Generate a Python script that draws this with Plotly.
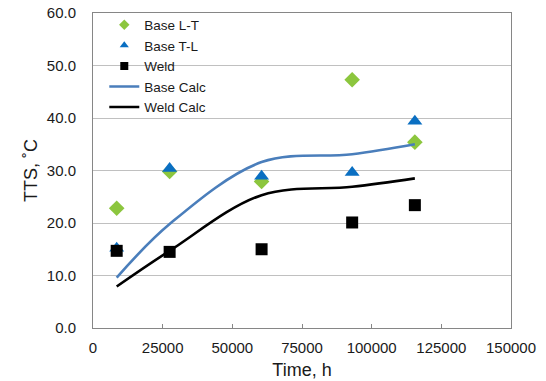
import plotly.graph_objects as go

# Exposure times (h) and transition temperature shifts (°C)
time_h = [8500, 27500, 60500, 93000, 115500]
base_lt = [22.8, 29.8, 27.9, 47.3, 35.4]
base_tl = [15.2, 30.4, 28.9, 29.6, 39.4]
weld = [14.7, 14.5, 15.0, 20.1, 23.4]
base_calc = [9.6, 19.8, 31.6, 33.1, 35.0]
weld_calc = [7.9, 14.7, 25.3, 26.9, 28.5]

x_ticks = [0, 25000, 50000, 75000, 100000, 125000, 150000]
y_ticks = [0, 10, 20, 30, 40, 50, 60]

FONT = "Liberation Sans, Arial, sans-serif"

GREEN, BLUE, BLACK, LINE_BLUE = "#8CC63E", "#0A6FC2", "#000000", "#4A7EBB"

fig = go.Figure()
# Measured data (plotted marks; legend entries come from the key traces below)
fig.add_trace(go.Scatter(x=time_h, y=base_lt, mode="markers", name="Base L-T", showlegend=False,
                         marker=dict(symbol="diamond", size=12, color=GREEN)))
fig.add_trace(go.Scatter(x=time_h, y=base_tl, mode="markers", name="Base T-L", showlegend=False,
                         marker=dict(symbol="triangle-up", size=13, color=BLUE)))
fig.add_trace(go.Scatter(x=time_h, y=weld, mode="markers", name="Weld", showlegend=False,
                         marker=dict(symbol="square", size=12, color=BLACK)))
fig.add_trace(go.Scatter(x=time_h, y=base_calc, mode="lines", name="Base Calc", showlegend=False,
                         line=dict(color=LINE_BLUE, width=2.6, shape="spline", smoothing=1.0)))
fig.add_trace(go.Scatter(x=time_h, y=weld_calc, mode="lines", name="Weld Calc", showlegend=False,
                         line=dict(color=BLACK, width=2.6, shape="spline", smoothing=1.0)))

# Legend key with smaller symbols
key = [
    ("Base L-T", "markers", dict(symbol="diamond", size=8, color=GREEN), None),
    ("Base T-L", "markers", dict(symbol="triangle-up", size=8, color=BLUE), None),
    ("Weld", "markers", dict(symbol="square", size=8, color=BLACK), None),
    ("Base Calc", "lines", None, dict(color=LINE_BLUE, width=2.6)),
    ("Weld Calc", "lines", None, dict(color=BLACK, width=2.6)),
]
for name, mode, marker, line in key:
    fig.add_trace(go.Scatter(x=[None], y=[None], mode=mode, name=name,
                             marker=marker, line=line, hoverinfo="skip"))

fig.update_layout(
    width=546, height=381,
    margin=dict(l=93, r=35, t=13, b=53, autoexpand=False),
    paper_bgcolor="white", plot_bgcolor="white",
    font=dict(family=FONT, size=15, color="#1a1a1a"),
    showlegend=True,
    legend=dict(x=0.027, y=0.975, xanchor="left", yanchor="top", yref="container",
                bgcolor="rgba(0,0,0,0)", font=dict(size=13.5, color="#1a1a1a"),
                tracegroupgap=0, itemsizing="trace"),
)
fig.update_xaxes(
    range=[0, 150000], tickvals=x_ticks, ticktext=[str(v) for v in x_ticks],
    showgrid=False, zeroline=False, automargin=False,
    showline=True, linecolor="#868686", linewidth=1, mirror=True,
    ticks="inside", ticklen=4, tickcolor="#868686", ticklabelstandoff=6,
    title=dict(text="Time, h", font=dict(size=18), standoff=8),
)
fig.update_yaxes(
    range=[0, 60], tickvals=y_ticks, ticktext=[f"{v:.1f}" for v in y_ticks],
    showgrid=True, gridcolor="#C0C0C0", gridwidth=1, zeroline=False, automargin=False,
    showline=True, linecolor="#868686", linewidth=1, mirror=True,
    ticks="", ticklabelstandoff=13,
    title=dict(text="TTS, ˚C", font=dict(size=18), standoff=4),
)

fig.write_html("out.html")
